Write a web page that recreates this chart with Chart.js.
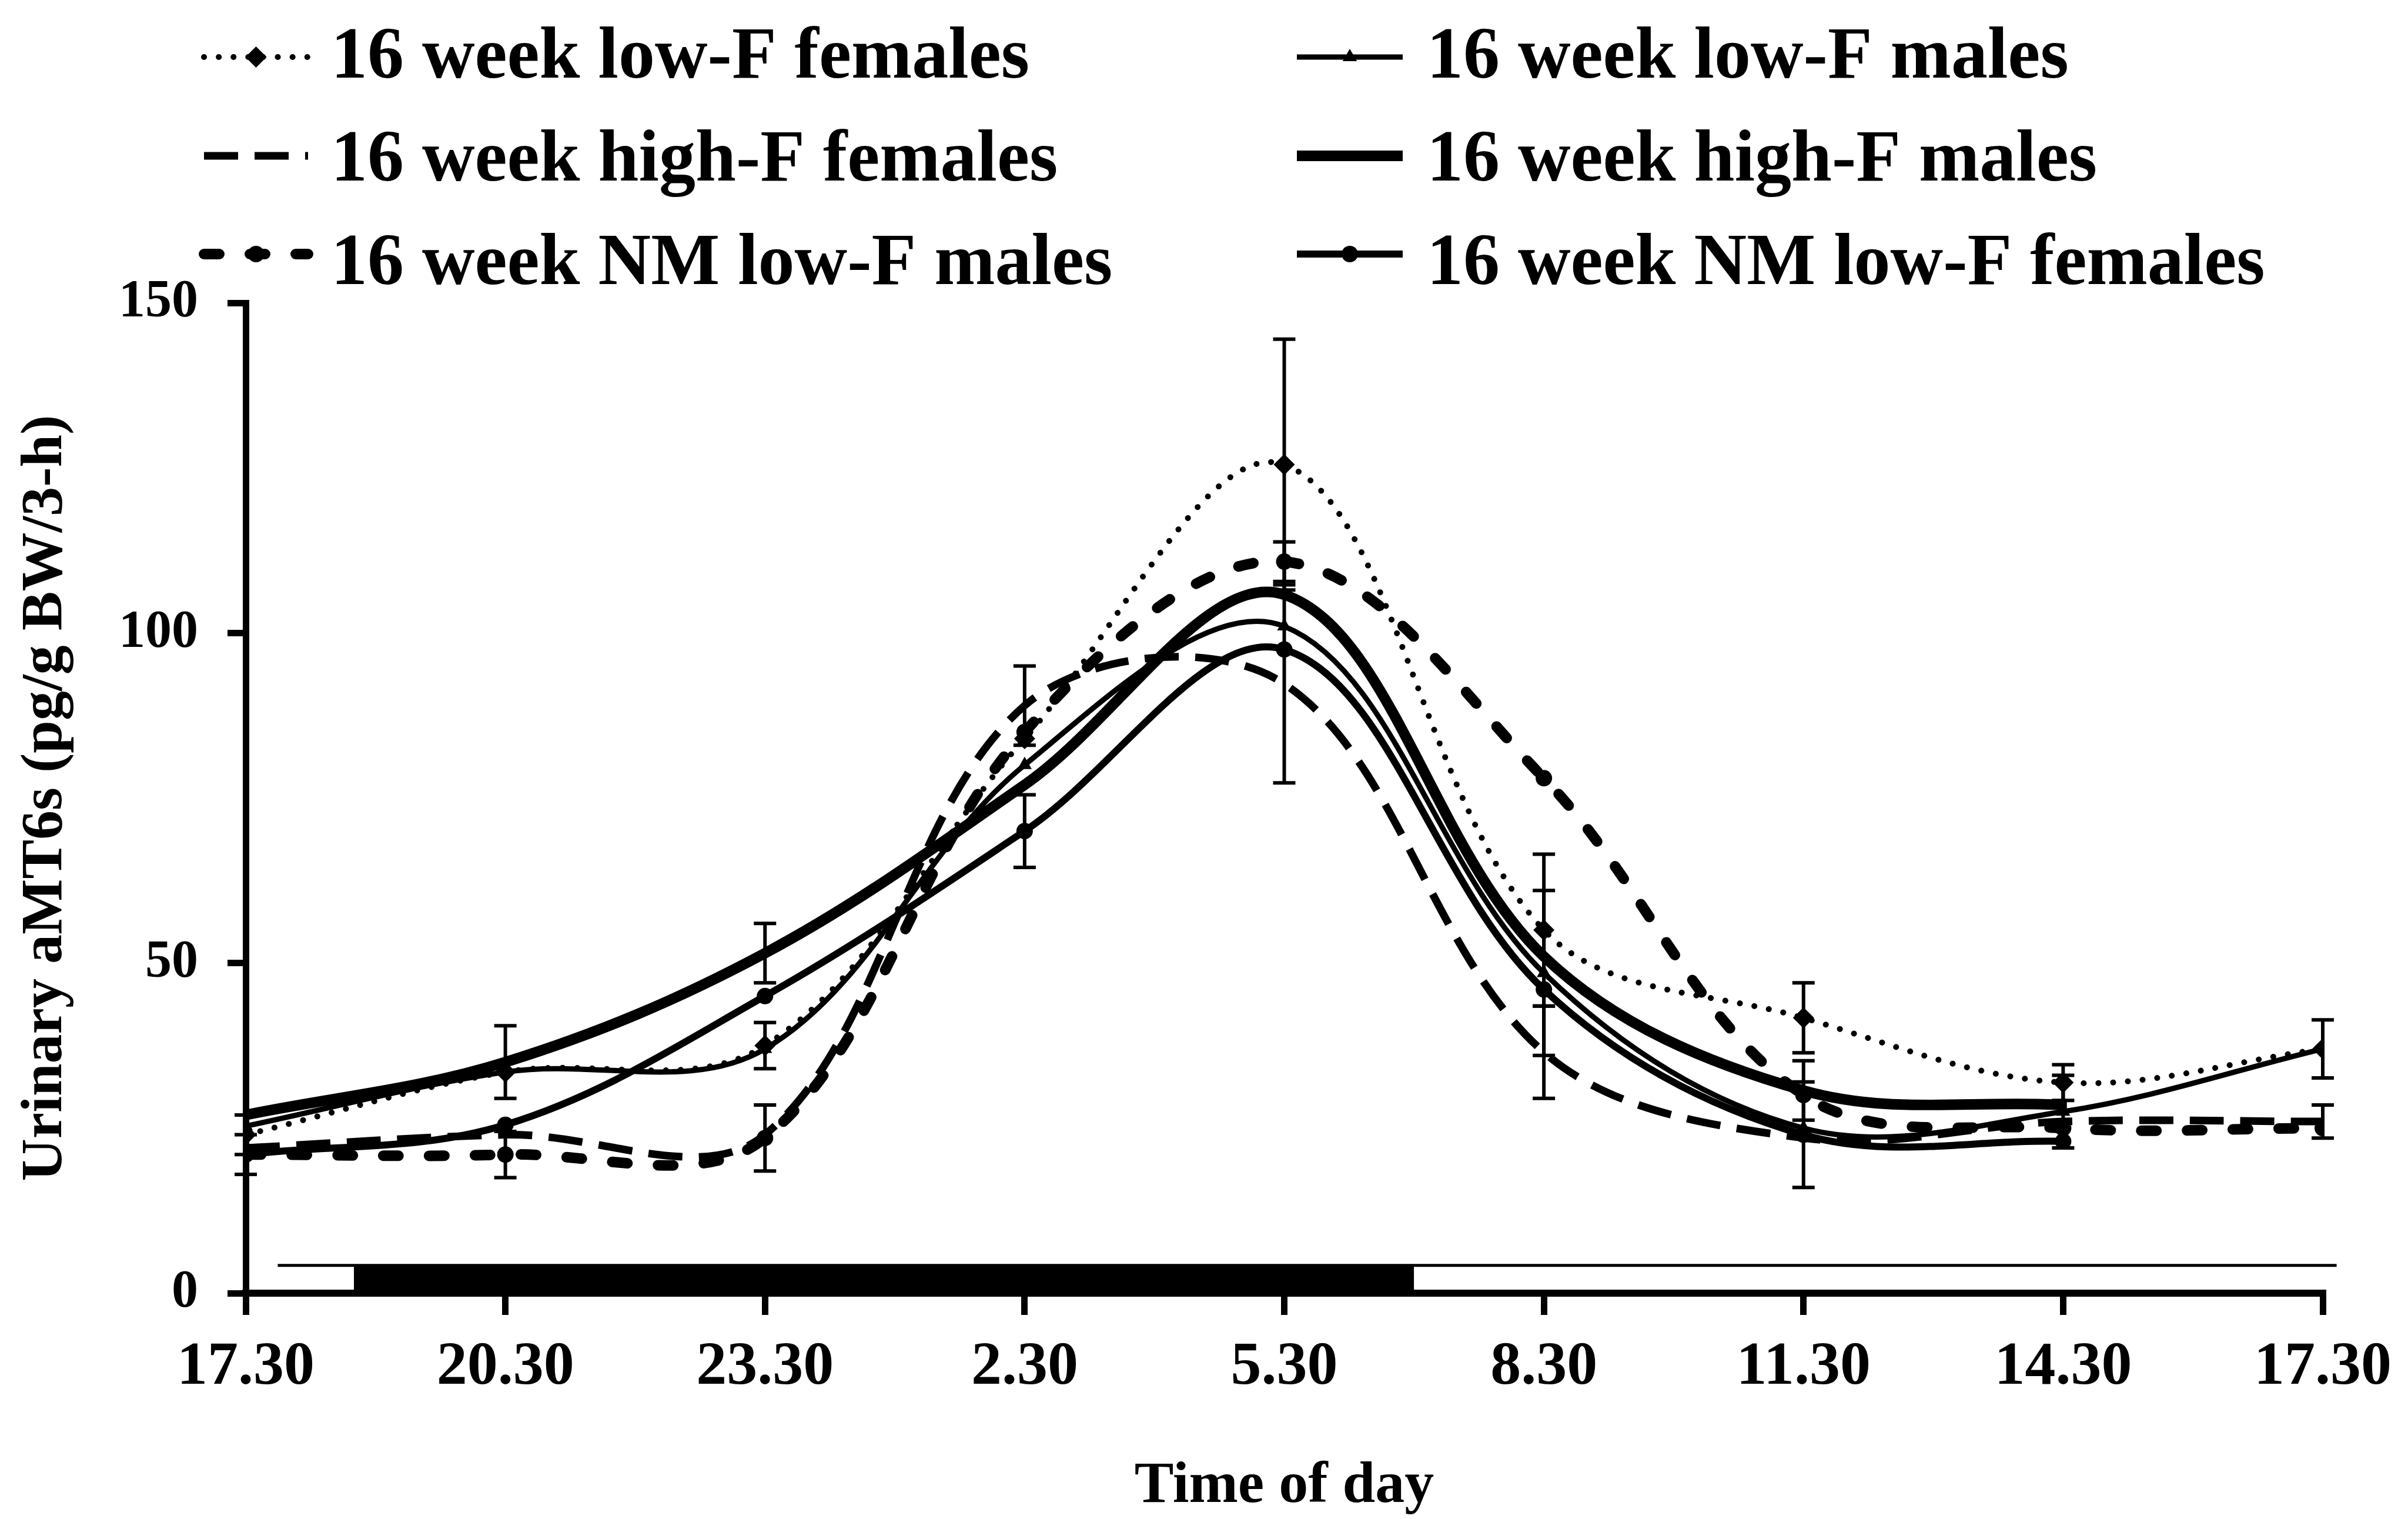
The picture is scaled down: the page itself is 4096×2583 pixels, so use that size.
<!DOCTYPE html>
<html>
<head>
<meta charset="utf-8">
<script src="https://cdn.jsdelivr.net/npm/chart.js@4.4.1/dist/chart.umd.min.js"></script>
<style>
  html, body { margin: 0; padding: 0; background: #fff; }
  #chart { display: block; }
</style>
</head>
<body>
<canvas id="chart" width="4096" height="2583"></canvas>
<script>
// sampling times, in hours after 17.30
const hours = [0, 3, 6, 9, 12, 15, 18, 21, 24];
const timeLabels = ['17.30', '20.30', '23.30', '2.30', '5.30', '8.30', '11.30', '14.30', '17.30'];

// urinary aMT6s means (pg/g BW/3-h)
const lowFFemales   = [24, 33.5, 37.5, 84, 125.5, 55, 41.7, 31.9, 37];
const lowFMales     = [25.3, 33.5, 37, 80, 101, 48.5, 25, 27.5, 37];
const highFFemales  = [22, 24, 24, 89, 92.3, 36.5, 23.5, 26, 26];
const highFMales    = [27, 35, 51.5, 77, 105.8, 51, 30.7, 28.5, null];
const nmLowFMales   = [21, 21, 23.5, 85, 110.8, 78, 30, 25, 25];
const nmLowFFemales = [21, 25.5, 45, 70, 97.5, 46, 24, 23, null];

// standard errors (null = no bar drawn)
const lowFFemalesErr   = [3, null, 3.5, null, 19, 11.5, 5.3, 2.7, null];
const lowFMalesErr     = [null, null, null, null, null, 12.5, null, 5.5, 4.4];
const highFFemalesErr  = [null, null, null, 6, 15, 7, null, null, 2.5];
const highFMalesErr    = [null, 5.5, 4.5, null, null, null, 4.5, null, null];
const nmLowFMalesErr   = [3, 3.5, 5, null, 3, null, null, null, null];
const nmLowFFemalesErr = [null, null, null, 5.5, null, null, 8, null, null];

// light/dark bar along the time axis (hours after 17.30)
const lightSpan = [0.37, 24.16];
const darkSpan = [1.25, 13.5];
const barLevel = [4.2];

const FONT = '"Liberation Serif", "DejaVu Serif", serif';

const series = [
  { label: '16 week low-F females', values: lowFFemales, errors: lowFFemalesErr,
    width: 10, dash: [0.1, 25], cap: 'round', point: 'rectRot', radius: 18 },
  { label: '16 week low-F males', values: lowFMales, errors: lowFMalesErr,
    width: 9, dash: [], cap: 'butt', point: 'triangle', radius: 14 },
  { label: '16 week high-F females', values: highFFemales, errors: highFFemalesErr,
    width: 13, dash: [58, 28], cap: 'butt', point: 'circle', radius: 0 },
  { label: '16 week high-F males', values: highFMales, errors: highFMalesErr,
    width: 18, dash: [], cap: 'butt', point: 'rect', radius: 9 },
  { label: '16 week NM low-F males', values: nmLowFMales, errors: nmLowFMalesErr,
    width: 18, dash: [26, 52], cap: 'round', point: 'circle', radius: 14 },
  { label: '16 week NM low-F females', values: nmLowFFemales, errors: nmLowFFemalesErr,
    width: 12, dash: [], cap: 'butt', point: 'circle', radius: 14 }
];

const lineDatasets = series.map(s => ({
  label: s.label,
  data: hours.map((h, i) => ({ x: h, y: s.values[i] })),
  borderColor: '#000',
  backgroundColor: '#000',
  borderWidth: s.width,
  borderDash: s.dash,
  borderCapStyle: s.cap,
  tension: 0.35,
  fill: false,
  pointStyle: s.point,
  pointRadius: s.radius,
  pointBorderWidth: 0,
  pointBackgroundColor: '#000'
}));

const barDatasets = [
  {
    label: 'light',
    data: lightSpan.map(h => ({ x: h, y: barLevel[0] })),
    borderColor: '#000',
    borderWidth: 5,
    pointRadius: 0,
    fill: false,
    clip: false
  },
  {
    label: 'dark',
    data: darkSpan.map(h => ({ x: h, y: barLevel[0] })),
    borderColor: '#000',
    backgroundColor: '#000',
    borderWidth: 2,
    pointRadius: 0,
    fill: 'origin'
  }
];

// vertical error bars with caps
const errorBars = {
  id: 'errorBars',
  afterDatasetsDraw(chart) {
    const { ctx, scales: { x, y } } = chart;
    ctx.save();
    ctx.strokeStyle = '#000';
    ctx.lineWidth = 6;
    ctx.setLineDash([]);
    series.forEach(s => {
      s.values.forEach((v, i) => {
        const e = s.errors[i];
        if (v == null || e == null) return;
        const px = x.getPixelForValue(hours[i]);
        const top = y.getPixelForValue(v + e);
        const bot = y.getPixelForValue(v - e);
        ctx.beginPath();
        ctx.moveTo(px, top); ctx.lineTo(px, bot);
        ctx.moveTo(px - 19, top); ctx.lineTo(px + 19, top);
        ctx.moveTo(px - 19, bot); ctx.lineTo(px + 19, bot);
        ctx.stroke();
      });
    });
    ctx.restore();
  }
};

// two-column legend above the plot
const legendBlock = {
  id: 'legendBlock',
  afterDraw(chart) {
    const ctx = chart.ctx;
    const cols = [{ x0: 347, x1: 524, tx: 563 }, { x0: 2206, x1: 2386, tx: 2427 }];
    const rowMid = [97, 265, 432];
    const rowBase = [132, 307, 483];
    ctx.save();
    ctx.fillStyle = '#000';
    ctx.strokeStyle = '#000';
    series.forEach((s, i) => {
      const c = cols[i % 2];
      const r = Math.floor(i / 2);
      ctx.lineWidth = s.width;
      ctx.lineCap = s.cap;
      ctx.setLineDash(s.dash);
      ctx.beginPath();
      ctx.moveTo(c.x0, rowMid[r]);
      ctx.lineTo(c.x1, rowMid[r]);
      ctx.stroke();
      ctx.setLineDash([]);
      if (s.radius > 0) {
        Chart.helpers.drawPoint(ctx, { pointStyle: s.point, rotation: 0, radius: s.radius, borderWidth: 0 },
          (c.x0 + c.x1) / 2, rowMid[r]);
      }
      ctx.font = 'bold 124px ' + FONT;
      ctx.textAlign = 'left';
      ctx.textBaseline = 'alphabetic';
      ctx.fillText(s.label, c.tx, rowBase[r]);
    });
    ctx.restore();
  }
};

new Chart(document.getElementById('chart'), {
  type: 'line',
  data: { datasets: [...lineDatasets, ...barDatasets] },
  options: {
    responsive: false,
    devicePixelRatio: 1,
    animation: false,
    layout: { padding: { top: 515, right: 140, bottom: 0, left: 0 } },
    plugins: { legend: { display: false }, tooltip: { enabled: false } },
    scales: {
      x: {
        type: 'linear',
        min: 0,
        max: 24,
        afterFit(scale) { scale.height = 384; },
        afterBuildTicks(scale) { scale.ticks = hours.map(h => ({ value: h })); },
        ticks: {
          autoSkip: false,
          maxRotation: 0,
          padding: 28,
          color: '#000',
          font: { family: FONT, weight: 'bold', size: 104 },
          callback: (v, i) => timeLabels[i]
        },
        grid: { drawOnChartArea: false, tickLength: 37, tickWidth: 11, tickColor: '#000', color: '#000', lineWidth: 11 },
        border: { color: '#000', width: 12 },
        title: {
          display: true,
          text: 'Time of day',
          color: '#000',
          font: { family: FONT, weight: 'bold', size: 100, lineHeight: 1 },
          padding: { top: 0, bottom: 5 }
        }
      },
      y: {
        min: 0,
        max: 150,
        afterFit(scale) { scale.width = 418; },
        ticks: {
          stepSize: 50,
          padding: 50,
          color: '#000',
          font: { family: FONT, weight: 'bold', size: 90 }
        },
        grid: { drawOnChartArea: false, tickLength: 31, tickWidth: 11, tickColor: '#000', color: '#000', lineWidth: 11 },
        border: { color: '#000', width: 11 },
        title: {
          display: true,
          text: 'Urinary aMT6s (pg/g BW/3-h)',
          color: '#000',
          font: { family: FONT, weight: 'bold', size: 100, lineHeight: 1 },
          padding: { top: 28, bottom: 0 }
        }
      }
    }
  },
  plugins: [errorBars, legendBlock]
});
</script>
</body>
</html>
